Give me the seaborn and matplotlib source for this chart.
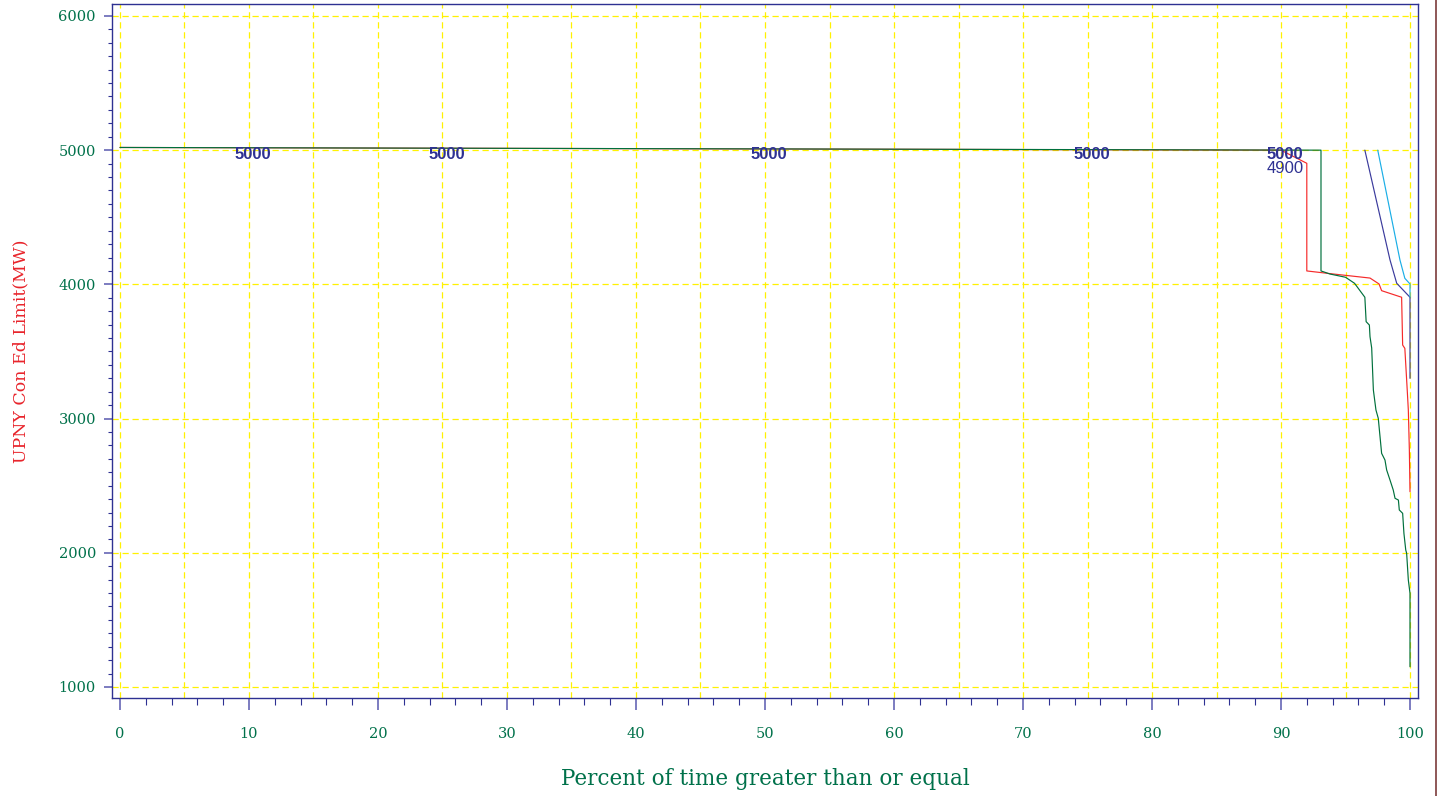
import numpy as np
import pandas as pd
import matplotlib
matplotlib.use("Agg")
import matplotlib.pyplot as plt
from matplotlib.lines import Line2D
from matplotlib.ticker import MultipleLocator
import seaborn as sns

# duration curves (percent of time, MW)
green_x = [0, 93.1, 93.1, 93.8, 95.0, 95.7, 96.5, 96.6, 96.85, 96.9, 97.03, 97.16, 97.36,
           97.54, 97.8, 98.06, 98.19, 98.45, 98.7, 98.84, 99.1, 99.17, 99.43, 99.53,
           99.67, 99.74, 99.87, 100.0, 100.0]
green_y = [5020, 5000, 4100, 4077, 4053, 4008, 3904, 3722, 3697, 3610, 3526, 3213, 3064,
           3002, 2741, 2691, 2617, 2542, 2468, 2406, 2393, 2319, 2294, 2144,
           2021, 1996, 1797, 1698, 1151]

red_x = [0, 90.0, 92.0, 92.0, 93.8, 96.9, 97.6, 97.8, 99.35, 99.43, 99.6, 99.8, 99.87, 99.95, 100.0]
red_y = [5020, 5000, 4902, 4100, 4080, 4047, 4003, 3953, 3904, 3548, 3523, 3187, 3064, 2766, 2455]

navy_x = [96.5, 98.45, 98.97, 100.0, 100.0]
navy_y = [5000, 4182, 4008, 3904, 3300]

cyan_x = [97.5, 99.22, 99.6, 100.0, 100.0]
cyan_y = [5000, 4182, 4045, 4003, 3904]

# point labels on the curve
label_x = [10, 25, 50, 75, 90, 90]
label_y = [4964, 4964, 4964, 4964, 4964, 4867]
label_text = ["5000", "5000", "5000", "5000", "5000", "4900"]
label_bold = [True, True, True, True, True, False]

NAVY = "#2E3192"
GREEN_TXT = "#00714A"
PX = 72 / 100  # points per pixel at dpi 100
series_colors = {"red": "#F52A2A", "navy": "#3A3A9C", "cyan": "#1AAEE6", "green": "#00703C"}

frames = []
for name, xs, ys in [("red", red_x, red_y), ("navy", navy_x, navy_y),
                     ("cyan", cyan_x, cyan_y), ("green", green_x, green_y)]:
    frames.append(pd.DataFrame({"pct": xs, "mw": ys, "series": name}))
df = pd.concat(frames, ignore_index=True)

sns.set_theme(style="white")
plt.rcParams["font.family"] = ["DejaVu Serif"]

fig = plt.figure(figsize=(14.42, 7.96), dpi=100)
ax = fig.add_axes([112 / 1442, 1 - 698 / 796, (1418 - 112) / 1442, (698 - 4) / 796])

# grid first so curves sit on top
for gx in np.arange(0, 101, 5):
    ax.axvline(gx, color="#FFF200", lw=0.9, ls=(0, (5, 3)), zorder=1)
for gy in np.arange(1000, 6001, 1000):
    ax.axhline(gy, color="#FFF200", lw=0.9, ls=(0, (5, 3)), zorder=1)

sns.lineplot(data=df, x="pct", y="mw", hue="series", hue_order=["red", "navy", "cyan", "green"],
             palette=series_colors, estimator=None, sort=False, units="series",
             legend=False, linewidth=0.85, ax=ax, zorder=3)

for tx, ty, tt, tb in zip(label_x, label_y, label_text, label_bold):
    ax.text(tx + 0.3, ty, tt, color=NAVY, fontsize=12, family="Liberation Sans",
            fontweight="bold" if tb else "normal", ha="center", va="center", zorder=4)

ax.set_xlim(-0.62, 100.62)
ax.set_ylim(918, 6089)

ax.xaxis.set_major_locator(MultipleLocator(10))
ax.xaxis.set_minor_locator(MultipleLocator(2))
ax.yaxis.set_major_locator(MultipleLocator(1000))
ax.yaxis.set_minor_locator(MultipleLocator(100))

for side in ["left", "right", "top", "bottom"]:
    ax.spines[side].set_color(NAVY)
    ax.spines[side].set_linewidth(1.0)

ax.tick_params(axis="x", which="major", direction="out", length=12 * PX, width=1.4,
               color="#7C7CC0", pad=17.5 * PX, labelsize=10.5, labelcolor=GREEN_TXT, bottom=True)
ax.tick_params(axis="x", which="minor", direction="out", length=7 * PX, width=0.8,
               color=NAVY, bottom=True)
ax.tick_params(axis="y", which="major", direction="out", length=8 * PX, width=1.4,
               color="#7C7CC0", pad=8 * PX, labelsize=10.5, labelcolor=GREEN_TXT, left=True)
ax.tick_params(axis="y", which="minor", direction="out", length=4 * PX, width=0.8,
               color=NAVY, left=True)

ax.set_xlabel("Percent of time greater than or equal", fontsize=15.5, color=GREEN_TXT)
ax.set_ylabel("UPNY Con Ed Limit(MW)", fontsize=12.5, color="#E8242B")
ax.xaxis.set_label_coords(0.5, -(768 - 698) / 694)
ax.yaxis.set_label_coords(-(112 - 29) / 1306, 0.5)

# thin maroon border at the right edge of the image
fig.add_artist(Line2D([1435.5 / 1442, 1435.5 / 1442], [0, 1], color="#7B3B3B", lw=1.2))

fig.savefig("out.png", dpi=100, facecolor="white")
